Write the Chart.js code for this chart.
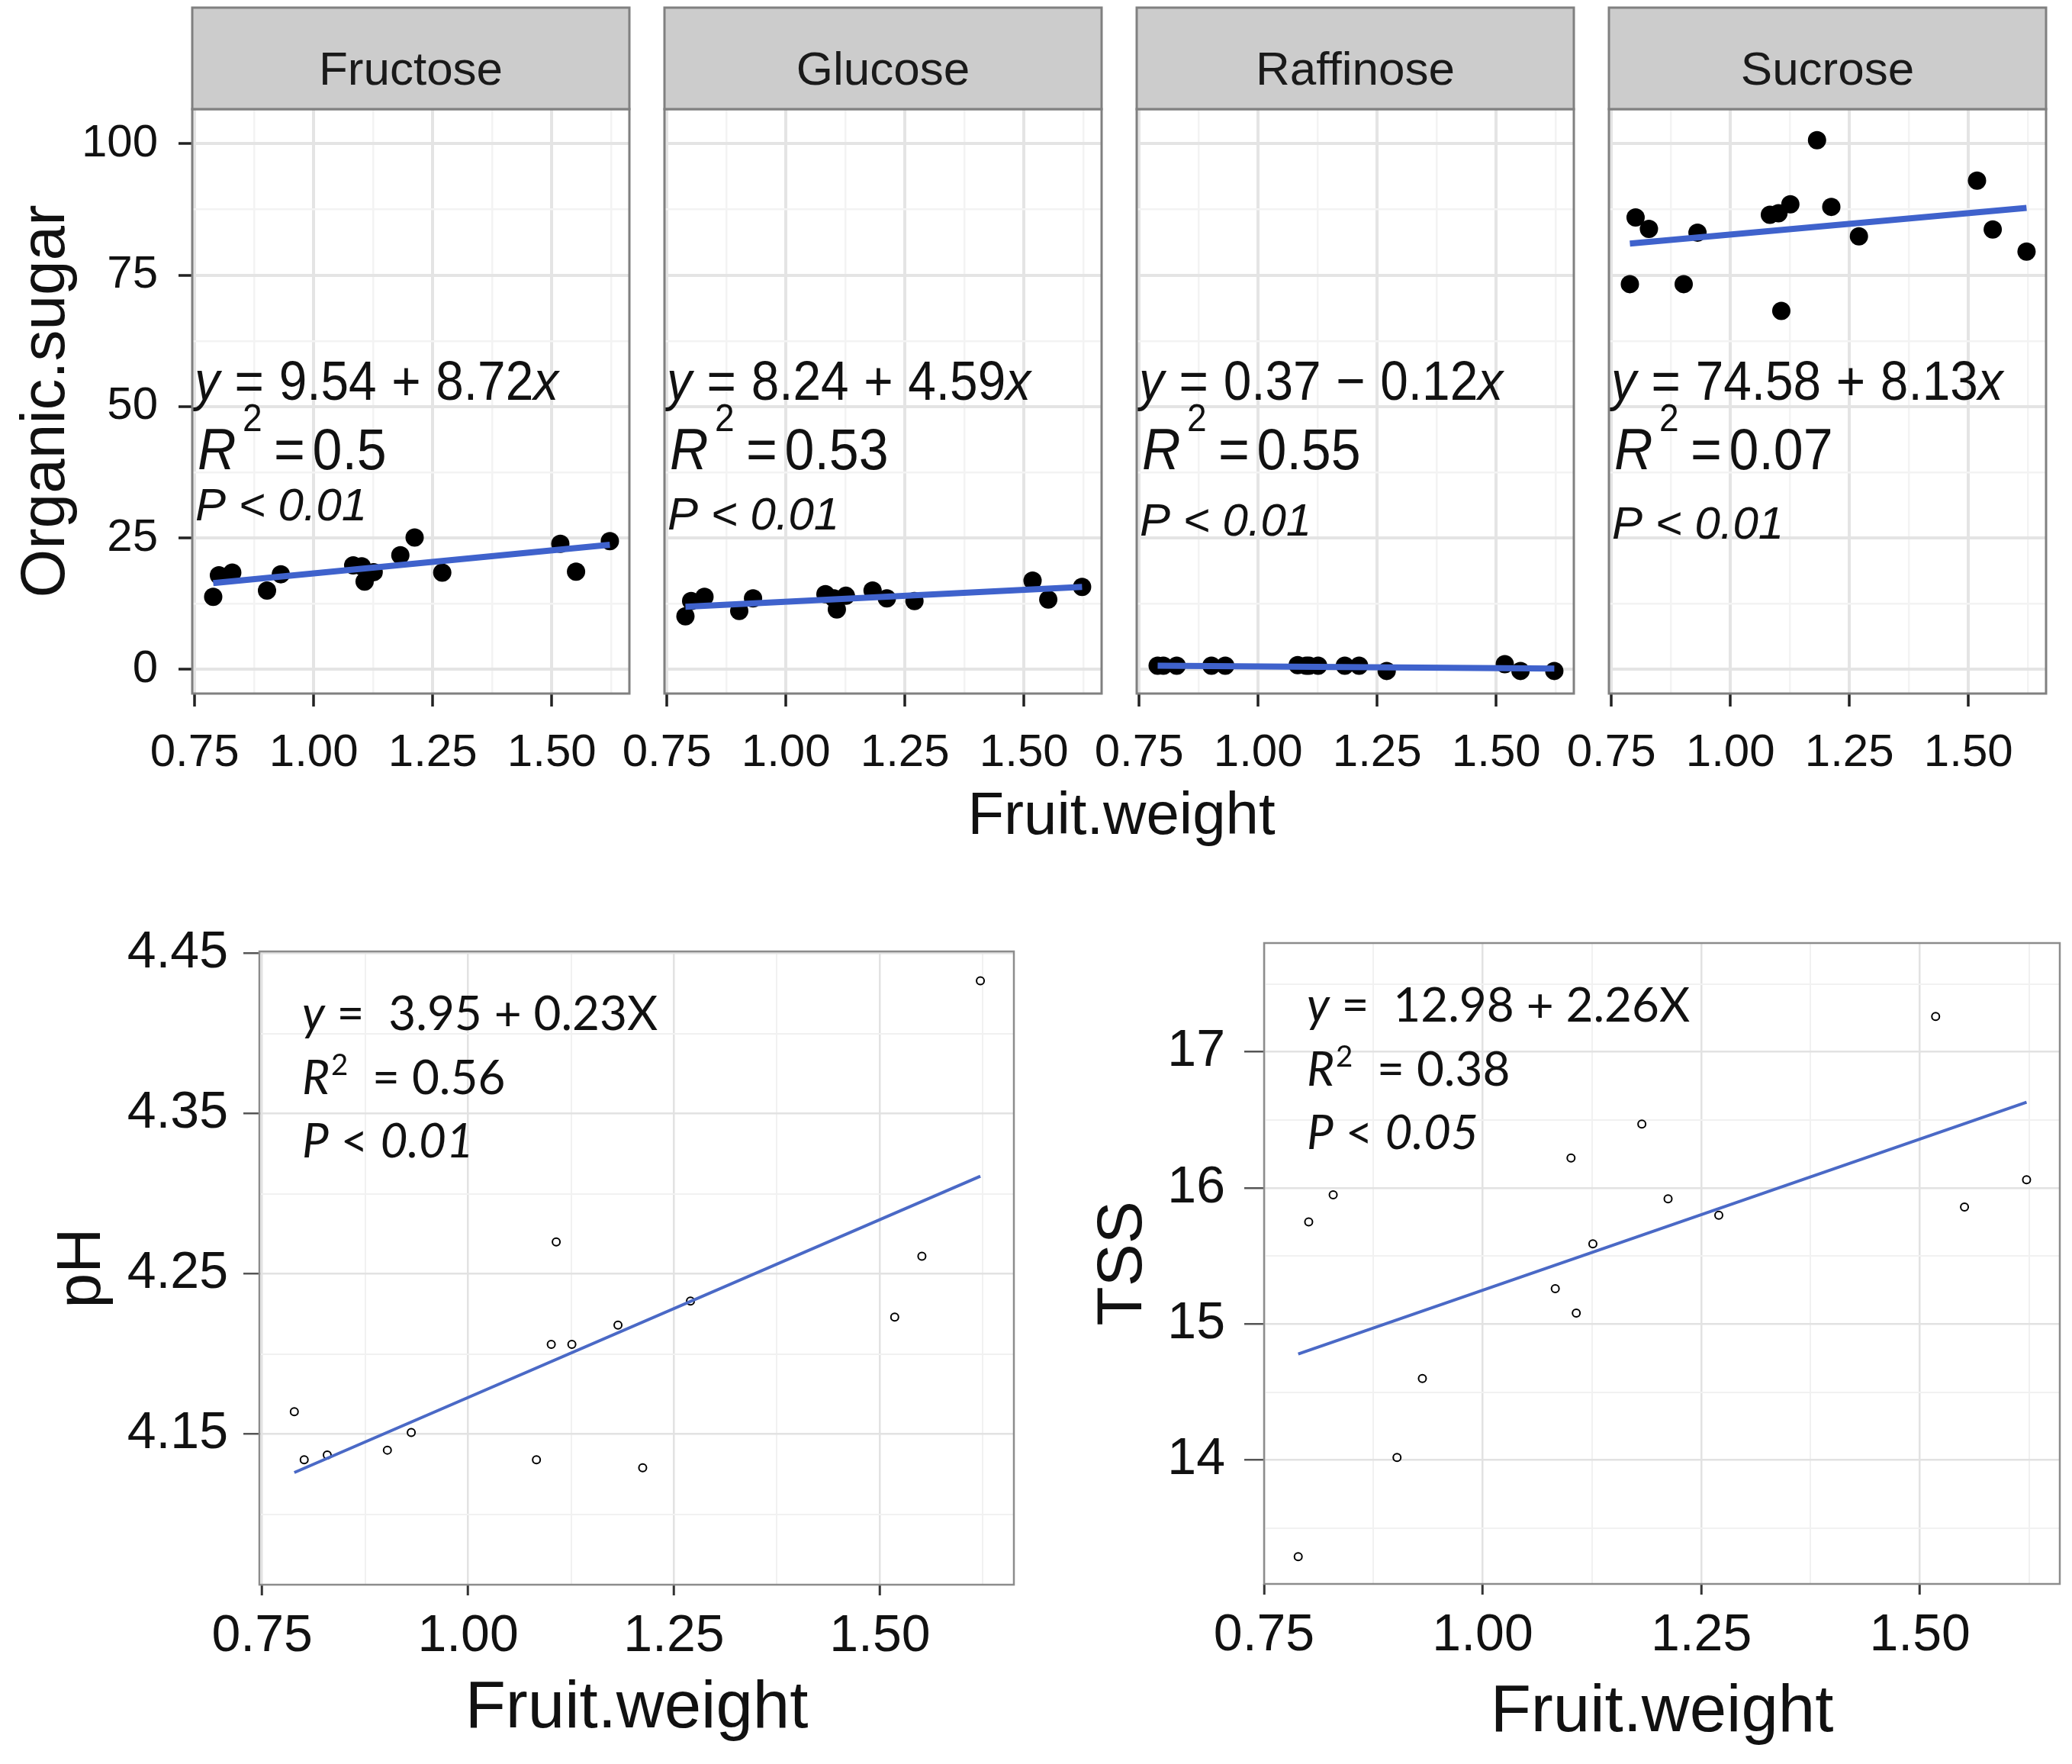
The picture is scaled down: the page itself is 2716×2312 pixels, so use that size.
<!DOCTYPE html>
<html>
<head>
<meta charset="utf-8">
<title>Fruit weight against organic sugars, pH and TSS</title>
<script src="https://cdn.jsdelivr.net/npm/chart.js@4.4.1/dist/chart.umd.min.js"></script>
<style>
    html, body { margin: 0; padding: 0; background: #fff; }
    #page { position: relative; width: 2716px; height: 2312px; overflow: hidden; background: #fff; }
    .box { position: absolute; }
    .box canvas { display: block; }
    #sharedX {
        position: absolute;
        left: 1470px;
        top: 1027px;
        transform: translateX(-50%);
        font-family: 'Liberation Sans', Arial, sans-serif;
        font-size: 78px;
        line-height: 78px;
        color: #111;
        white-space: nowrap;
    }
</style>
</head>
<body>
<div id="page">
    <div id="sharedX">Fruit.weight</div>
</div>
<script>
//..fruit weight of the 15 samples, shared by every panel
const fruitWeight = [0.789, 0.801, 0.829, 0.902, 0.931, 1.083, 1.101, 1.107, 1.126, 1.182, 1.212, 1.270, 1.518, 1.551, 1.622];

//..organic sugar panels
const sugarNames = ['Fructose', 'Glucose', 'Raffinose', 'Sucrose'];
const fructose = [13.8, 17.9, 18.4, 15.0, 18.1, 19.8, 19.6, 16.7, 18.5, 21.7, 25.1, 18.4, 23.9, 18.6, 24.4];
const glucose = [10.1, 13.0, 13.8, 11.1, 13.5, 14.3, 13.5, 11.4, 14.0, 15.0, 13.5, 13.0, 16.9, 13.3, 15.7];
const raffinose = [0.7, 0.7, 0.7, 0.7, 0.7, 0.8, 0.7, 0.7, 0.7, 0.7, 0.7, -0.3, 1.0, -0.3, -0.3];
const sucrose = [73.3, 86.0, 83.8, 73.3, 83.1, 86.5, 86.8, 68.2, 88.5, 100.7, 88.0, 82.4, 93.0, 83.7, 79.5];
const sugarSeries = [fructose, glucose, raffinose, sucrose];

//..pH and TSS
const phValues = [4.164, 4.134, 4.137, 4.140, 4.151, 4.134, 4.206, 4.270, 4.206, 4.218, 4.129, 4.233, 4.223, 4.261, 4.433];
const tssValues = [13.29, 15.75, 15.95, 14.02, 14.60, 15.26, 16.22, 15.08, 15.59, 16.47, 15.92, 15.80, 17.26, 15.86, 16.06];

//..fitted lines: y at the lightest and at the heaviest fruit
const sugarFitStart = [16.4, 11.9, 0.7, 81.0];
const sugarFitEnd = [23.7, 15.7, 0.15, 87.8];
const phFit = [4.126, 4.311];
const tssFit = [14.78, 16.63];

//..equation labels
const sugarIntercept = ['9.54', '8.24', '0.37', '74.58'];
const sugarSign = ['+', '+', '\u2212', '+'];
const sugarSlope = ['8.72', '4.59', '0.12', '8.13'];
const sugarR2 = ['0.5', '0.53', '0.55', '0.07'];
const sugarP = ['0.01', '0.01', '0.01', '0.01'];

//..ticks
const weightTicks = [0.75, 1.00, 1.25, 1.50];
const weightMinor = [0.875, 1.125, 1.375, 1.625];
const sugarTicks = [0, 25, 50, 75, 100];
const sugarMinor = [12.5, 37.5, 62.5, 87.5];
const phTicks = [4.15, 4.25, 4.35, 4.45];
const phMinor = [4.10, 4.20, 4.30, 4.40];
const tssTicks = [14, 15, 16, 17];
const tssMinor = [13.5, 14.5, 15.5, 16.5, 17.5];

const SANS = "'Liberation Sans', Arial, Helvetica, sans-serif";
const CALIBRI = "Lato, 'Open Sans', sans-serif";

Chart.defaults.font.family = SANS;
Chart.defaults.color = '#111';

function isMajor(list, v) {
    return list.some(t => Math.abs(t - v) < 1e-6);
}

function placeCanvas(id, rect) {
    const box = document.createElement('div');
    box.className = 'box';
    box.style.left = rect.x + 'px';
    box.style.top = rect.y + 'px';
    const cv = document.createElement('canvas');
    cv.id = id;
    cv.width = rect.w;
    cv.height = rect.h;
    cv.style.width = rect.w + 'px';
    cv.style.height = rect.h + 'px';
    box.appendChild(cv);
    document.getElementById('page').appendChild(box);
    return cv;
}

//..one axis with major + minor grid, labels only on majors
function axis(cfg) {
    const title = cfg.title ? {
        display: true,
        text: cfg.title,
        color: '#111',
        font: { family: SANS, size: cfg.titleSize },
        padding: cfg.titlePad
    } : { display: false };

    return {
        type: 'linear',
        position: cfg.position,
        min: cfg.min,
        max: cfg.max,
        bounds: 'data',
        afterBuildTicks: s => {
            s.ticks = cfg.major.concat(cfg.minor)
                .filter(v => v >= cfg.min && v <= cfg.max)
                .sort((a, b) => a - b)
                .map(v => ({ value: v }));
        },
        afterFit: s => {
            if (cfg.position === 'left') s.width = cfg.size;
            else s.height = cfg.size;
        },
        border: { display: false },
        grid: {
            color: c => (c.tick && isMajor(cfg.major, c.tick.value)) ? cfg.gridMajor : cfg.gridMinor,
            lineWidth: c => (c.tick && isMajor(cfg.major, c.tick.value)) ? cfg.gridWidth[0] : cfg.gridWidth[1],
            drawTicks: cfg.drawTicks,
            tickLength: cfg.tickLength,
            tickWidth: cfg.tickWidth,
            tickColor: c => (c.tick && isMajor(cfg.major, c.tick.value)) ? cfg.tickColor : 'rgba(0,0,0,0)'
        },
        ticks: {
            display: cfg.labels,
            autoSkip: false,
            maxRotation: 0,
            minRotation: 0,
            padding: cfg.padding,
            color: '#111',
            font: { family: SANS, size: cfg.font },
            callback: v => isMajor(cfg.major, v) ? cfg.format(v) : ''
        },
        title: title
    };
}

//..text made of pieces (italic, superscript), optionally squeezed sideways
function drawRich(ctx, x, y, note) {
    const size = note.size;
    ctx.save();
    ctx.translate(x, y);
    ctx.scale(note.sx || 1, 1);
    let cx = 0;
    note.parts.forEach(p => {
        const s = size * (p.sc || 1);
        ctx.font = (p.it ? 'italic ' : '') + s + 'px ' + note.family;
        cx += (p.pre || 0) * size;
        ctx.fillText(p.t, cx, -(p.rise || 0) * size);
        cx += ctx.measureText(p.t).width;
    });
    ctx.restore();
}

//..panel border, strip and equation text
function makeDecor(d) {
    return {
        id: 'panelDecor',
        afterDatasetsDraw(chart) {
            const { ctx, chartArea: a } = chart;
            ctx.save();
            ctx.textAlign = 'left';
            ctx.textBaseline = 'alphabetic';
            ctx.fillStyle = '#111';
            d.notes.forEach(n => drawRich(ctx, a.left + n.dx, a.top + n.dy, n));

            ctx.strokeStyle = d.borderColor;
            ctx.lineWidth = d.borderWidth;
            ctx.strokeRect(a.left, a.top, a.right - a.left, a.bottom - a.top);

            if (d.strip) {
                ctx.fillStyle = '#cccccc';
                ctx.fillRect(a.left, d.stripTop, a.right - a.left, a.top - d.stripTop);
                ctx.strokeRect(a.left, d.stripTop, a.right - a.left, a.top - d.stripTop);
                ctx.fillStyle = '#1a1a1a';
                ctx.textAlign = 'center';
                ctx.font = '62px ' + SANS;
                ctx.fillText(d.strip, (a.left + a.right) / 2, d.stripBaseline);
            }
            ctx.restore();
        }
    };
}

function pointsOf(values) {
    return fruitWeight.map((w, k) => ({ x: w, y: values[k] }));
}

const fitX = [Math.min(...fruitWeight), Math.max(...fruitWeight)];

//..the four faceted sugar panels
const PANEL_LEFT = 252, PANEL_W = 573, PANEL_STEP = 619;
const PANEL_TOP = 143, PANEL_BOTTOM = 909;
const pNoteDy = [539, 551, 559, 563];

function renderFacet(i) {
    const left = PANEL_LEFT + PANEL_STEP * i;
    const right = left + PANEL_W;
    const rect = i === 0
        ? { x: 0, y: 0, w: right + 60, h: 1030 }
        : { x: left - 110, y: 0, w: PANEL_W + 170, h: 1030 };
    const cv = placeCanvas('facet' + i, rect);

    const notes = [
        { dx: 3, dy: 381, size: 73, sx: 0.9, family: SANS, parts: [
            { t: 'y', it: true },
            { t: '=', pre: 0.3 },
            { t: sugarIntercept[i], pre: 0.3 },
            { t: sugarSign[i], pre: 0.3 },
            { t: sugarSlope[i], pre: 0.3 },
            { t: 'x', it: true }
        ] },
        { dx: 7, dy: 472, size: 76, sx: 0.92, family: SANS, parts: [
            { t: 'R', it: true },
            { t: '2', sc: 0.66, rise: 0.66, pre: 0.12 },
            { t: '=', pre: 0.22 },
            { t: sugarR2[i], pre: 0.14 }
        ] },
        { dx: 4, dy: pNoteDy[i], size: 60, sx: 1, family: SANS, parts: [
            { t: 'P < ' + sugarP[i], it: true }
        ] }
    ];

    new Chart(cv, {
        type: 'scatter',
        data: {
            datasets: [
                {
                    data: [{ x: fitX[0], y: sugarFitStart[i] }, { x: fitX[1], y: sugarFitEnd[i] }],
                    showLine: true,
                    borderColor: '#3f62cc',
                    borderWidth: 8,
                    pointRadius: 0
                },
                {
                    data: pointsOf(sugarSeries[i]),
                    pointRadius: 12,
                    backgroundColor: '#000',
                    borderWidth: 0
                }
            ]
        },
        options: {
            responsive: false,
            animation: false,
            devicePixelRatio: 1,
            events: [],
            layout: { padding: { left: 0, top: PANEL_TOP, right: rect.x + rect.w - right, bottom: 0 } },
            plugins: { legend: { display: false }, tooltip: { enabled: false } },
            scales: {
                x: axis({
                    position: 'bottom', min: 0.745, max: 1.663,
                    major: weightTicks, minor: weightMinor,
                    size: rect.h - PANEL_BOTTOM,
                    drawTicks: true, tickLength: 17, tickWidth: 3.5, tickColor: '#222',
                    labels: true, padding: 25, font: 60,
                    gridMajor: '#e4e4e4', gridMinor: '#f3f3f3', gridWidth: [4, 2.5],
                    format: v => v.toFixed(2)
                }),
                y: axis({
                    position: 'left', min: -4.6, max: 106.6,
                    major: sugarTicks, minor: sugarMinor,
                    size: left - rect.x,
                    drawTicks: i === 0, tickLength: 18, tickWidth: 3.5, tickColor: '#222',
                    labels: i === 0, padding: 27, font: 60,
                    gridMajor: '#e4e4e4', gridMinor: '#f3f3f3', gridWidth: [4, 2.5],
                    format: v => String(v),
                    title: i === 0 ? 'Organic.sugar' : null,
                    titleSize: 82,
                    titlePad: { top: 12, bottom: 0 }
                })
            }
        },
        plugins: [makeDecor({
            notes: notes,
            borderColor: '#808080',
            borderWidth: 3,
            strip: sugarNames[i],
            stripTop: 10,
            stripBaseline: 111
        })]
    });
}

//..single scatter with fitted line (pH, TSS)
function renderSingle(id, cfg) {
    const rect = cfg.rect;
    const cv = placeCanvas(id, rect);
    const a = cfg.area;

    new Chart(cv, {
        type: 'scatter',
        data: {
            datasets: [
                {
                    data: [{ x: fitX[0], y: cfg.fit[0] }, { x: fitX[1], y: cfg.fit[1] }],
                    showLine: true,
                    borderColor: '#4a69c6',
                    borderWidth: 4,
                    pointRadius: 0
                },
                {
                    data: pointsOf(cfg.values),
                    pointRadius: 5,
                    pointStyle: 'circle',
                    backgroundColor: '#fff',
                    borderColor: '#000',
                    borderWidth: 2
                }
            ]
        },
        options: {
            responsive: false,
            animation: false,
            devicePixelRatio: 1,
            events: [],
            layout: { padding: { left: 0, top: a.t - rect.y, right: rect.x + rect.w - a.r, bottom: 0 } },
            plugins: { legend: { display: false }, tooltip: { enabled: false } },
            scales: {
                x: axis({
                    position: 'bottom', min: cfg.xMin, max: cfg.xMax,
                    major: weightTicks, minor: weightMinor,
                    size: rect.y + rect.h - a.b,
                    drawTicks: true, tickLength: 14, tickWidth: 3, tickColor: '#333',
                    labels: true, padding: 13, font: 68,
                    gridMajor: '#e2e2e2', gridMinor: '#f1f1f1', gridWidth: [2.5, 2],
                    format: v => v.toFixed(2),
                    title: 'Fruit.weight', titleSize: 87,
                    titlePad: { top: 0, bottom: cfg.xTitlePad }
                }),
                y: axis({
                    position: 'left', min: cfg.yMin, max: cfg.yMax,
                    major: cfg.major, minor: cfg.minor,
                    size: a.l - rect.x,
                    drawTicks: true, tickLength: cfg.yTick, tickWidth: 2.5, tickColor: '#555',
                    labels: true, padding: cfg.yPad, font: 68,
                    gridMajor: '#e2e2e2', gridMinor: '#f1f1f1', gridWidth: [2.5, 2],
                    format: cfg.format,
                    title: cfg.yTitle, titleSize: cfg.yTitleSize,
                    titlePad: { top: cfg.yTitlePad, bottom: 0 }
                })
            }
        },
        plugins: [makeDecor({
            notes: cfg.notes,
            borderColor: '#8c8c8c',
            borderWidth: 2.5,
            strip: null
        })]
    });
}

function bottomNotes(eq, r2, p) {
    return [
        { dx: 56, dy: 103, size: 62, sx: 1, family: CALIBRI, parts: [
            { t: 'y', it: true },
            { t: ' =  ' + eq }
        ] },
        { dx: 56, dy: 187, size: 62, sx: 1, family: CALIBRI, parts: [
            { t: 'R', it: true },
            { t: '2', sc: 0.62, rise: 0.4, pre: 0.03 },
            { t: '  = ' + r2 }
        ] },
        { dx: 56, dy: 270, size: 62, sx: 1, family: CALIBRI, parts: [
            { t: 'P', it: true },
            { t: ' < ' },
            { t: p, it: true }
        ] }
    ];
}

document.addEventListener('DOMContentLoaded', function () {
    sugarNames.forEach((_, i) => renderFacet(i));

    renderSingle('phChart', {
        rect: { x: 0, y: 1150, w: 1399, h: 1162 },
        area: { l: 340, t: 1247, r: 1329, b: 2077 },
        values: phValues, fit: phFit,
        xMin: 0.7466, xMax: 1.6627, yMin: 4.056, yMax: 4.4513,
        major: phTicks, minor: phMinor,
        format: v => v.toFixed(2),
        yTick: 21, yPad: 20,
        yTitle: 'pH', yTitleSize: 82, yTitlePad: 59,
        xTitlePad: 20,
        notes: bottomNotes('3.95 + 0.23X', '0.56', '0.01')
    });

    renderSingle('tssChart', {
        rect: { x: 1400, y: 1150, w: 1316, h: 1162 },
        area: { l: 1657, t: 1236, r: 2700, b: 2076 },
        values: tssValues, fit: tssFit,
        xMin: 0.75, xMax: 1.66, yMin: 13.09, yMax: 17.80,
        major: tssTicks, minor: tssMinor,
        format: v => String(v),
        yTick: 26, yPad: 25,
        yTitle: 'TSS', yTitleSize: 84, yTitlePad: 22,
        xTitlePad: 15,
        notes: bottomNotes('12.98 + 2.26X', '0.38', '0.05')
    });
});
</script>
</body>
</html>
